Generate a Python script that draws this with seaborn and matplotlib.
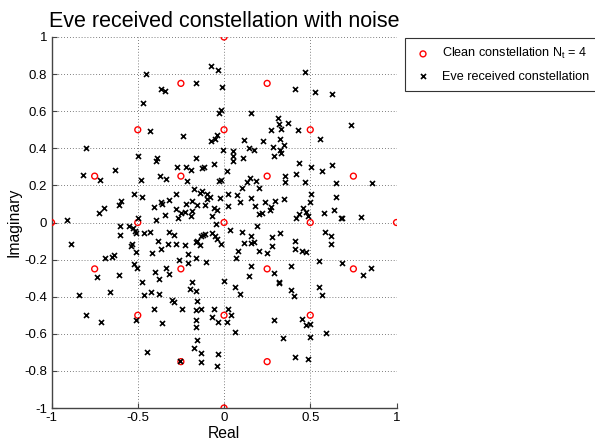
import matplotlib
matplotlib.use("Agg")
import matplotlib.pyplot as plt
import seaborn as sns

# Ideal constellation points (N_t = 4)
clean_re = [0, -0.25, 0.25, -0.5, 0, 0.5, -0.75, -0.25, 0.25, 0.75,
            -1, -0.5, 0, 0.5, 1, -0.75, -0.25, 0.25, 0.75,
            -0.5, 0, 0.5, -0.25, 0.25, 0]
clean_im = [1, 0.75, 0.75, 0.5, 0.5, 0.5, 0.25, 0.25, 0.25, 0.25,
            0, 0, 0, 0, 0, -0.25, -0.25, -0.25, -0.25,
            -0.5, -0.5, -0.5, -0.75, -0.75, -1]

# Symbols received by Eve (real part)
eve_re = [
    -0.076, -0.037, -0.45, -0.163, -0.366, -0.341, -0.012, -0.017, -0.027, 0.157,
    -0.43, -0.24, -0.041, -0.05, -0.076, 0.114, 0.225, 0.27, 0.283, -0.008,
    0.054, 0.143, 0.171, 0.05, 0.112, -0.386, -0.163, 0.289, -0.467, -0.80,
    -0.50, 0.467, 0.409, 0.529, 0.628, 0.312, 0.316, 0.37, 0.331, 0.428,
    0.738, 0.558, 0.322, 0.347, 0.322, 0.331,
    -0.395, -0.275, -0.63, -0.82, -0.721, -0.484, -0.372, -0.335, -0.523, -0.475,
    -0.281, -0.595, -0.61, -0.32, -0.368, -0.359, -0.407, -0.281, -0.694, -0.723,
    -0.343, -0.393, -0.266, -0.498, -0.911, -0.605, -0.552, -0.529, -0.517, -0.51,
    -0.605, -0.465, -0.432, -0.32, -0.29, -0.382, -0.533, -0.537, -0.324, -0.281,
    -0.886, -0.368, -0.51, -0.42, -0.64, -0.688, -0.649, -0.523, -0.504, -0.339,
    -0.401, -0.32, -0.737, -0.61, -0.378, -0.475,
    0.052, 0.432, -0.219, -0.194, -0.13, -0.116, -0.058, 0.019, -0.213, -0.029,
    -0.019, 0.149, 0.135, 0.188, 0.355, 0.417, 0.355, 0.107, 0.2, -0.174,
    -0.141, -0.13, -0.097, -0.083, -0.097, -0.025, 0.025, 0.077, 0.155, 0.091,
    0.238, 0.297, 0.349, -0.184, -0.155, -0.219, -0.11, -0.058, -0.043, 0.025,
    0.18, 0.271, 0.219, 0.2, 0.266, 0.455, 0.478, 0.436, 0.42, 0.484,
    -0.227, -0.184, -0.252, -0.194, -0.068, -0.048, 0.033, 0.103, 0.194, 0.155,
    0.324, -0.11, -0.122, -0.136, -0.068, -0.052, -0.155, -0.165, -0.141, -0.039,
    -0.019, -0.227, 0.116, 0.174, 0.155, 0.277, 0.413, 0.083, 0.203, 0.252,
    0.281, 0.413, 0.452, 0.478, -0.208, -0.161, 0.068, -0.208, -0.107, -0.262,
    0.155, 0.291, 0.145, -0.188, 0.0, 0.32,
    0.502, 0.57, 0.628, 0.467, 0.651, 0.86, 0.506, 0.496, 0.651, 0.58,
    0.638, 0.676, 0.686, 0.797, 0.583, 0.622, 0.622, 0.548, 0.684, 0.806,
    0.855, 0.39,
    -0.839, -0.663, -0.465, -0.426, -0.378, -0.30, -0.29, -0.407, -0.798, -0.711,
    -0.51, -0.359, -0.446,
    0.064, 0.316, -0.2, -0.165, 0.091, 0.388, 0.407, -0.155, -0.246, -0.161,
    -0.136, -0.058, 0.025, 0.039, -0.068, -0.033, 0.019, -0.161, -0.161, 0.291,
    0.452, 0.475, 0.064, 0.343, -0.155, -0.174, -0.136, -0.033, -0.136, -0.039,
    0.413, 0.484, -0.255,
    0.548, 0.57, 0.496, 0.496, 0.589,
]

# Symbols received by Eve (imaginary part)
eve_im = [
    0.844, 0.823, 0.80, 0.754, 0.722, 0.708, 0.729, 0.604, 0.593, 0.593,
    0.495, 0.468, 0.473, 0.452, 0.441, 0.443, 0.437, 0.50, 0.407, 0.389,
    0.385, 0.40, 0.389, 0.357, 0.348, 0.348, 0.348, 0.357, 0.643, 0.40,
    0.357, 0.813, 0.719, 0.704, 0.694, 0.563, 0.532, 0.539, 0.505, 0.50,
    0.527, 0.45, 0.45, 0.419, 0.389, 0.375,
    0.33, 0.297, 0.281, 0.258, 0.231, 0.231, 0.249, 0.237, 0.151, 0.136,
    0.154, 0.118, 0.093, 0.124, 0.111, 0.102, 0.084, 0.075, 0.079, 0.052,
    0.038, 0.016, 0.022, 0.022, 0.011, -0.02, -0.02, -0.029, -0.047, -0.059,
    -0.065, -0.059, -0.05, -0.05, -0.07, -0.097, -0.118, -0.127, -0.115, -0.115,
    -0.118, -0.142, -0.158, -0.167, -0.177, -0.194, -0.187, -0.222, -0.247, -0.244,
    -0.265, -0.276, -0.294, -0.283, -0.303, -0.319,
    0.33, 0.321, 0.297, 0.285, 0.294, 0.297, 0.315, 0.276, 0.226, 0.222,
    0.231, 0.24, 0.217, 0.222, 0.249, 0.262, 0.219, 0.187, 0.187, 0.181,
    0.16, 0.172, 0.151, 0.136, 0.129, 0.133, 0.154, 0.147, 0.133, 0.109,
    0.109, 0.115, 0.129, 0.115, 0.097, 0.10, 0.097, 0.079, 0.07, 0.088,
    0.088, 0.082, 0.052, 0.047, 0.07, 0.079, 0.057, 0.047, 0.025, 0.034,
    0.057, 0.061, 0.052, 0.034, 0.034, -0.007, -0.038, -0.05, -0.02, -0.074,
    -0.055, -0.061, -0.068, -0.074, -0.055, -0.074, -0.097, -0.104, -0.122, -0.091,
    -0.115, -0.122, -0.109, -0.104, -0.109, -0.079, -0.097, -0.154, -0.154, -0.163,
    -0.127, -0.145, -0.154, -0.158, -0.172, -0.19, -0.194, -0.217, -0.211, -0.204,
    -0.235, -0.27, -0.289, -0.319, -0.315, -0.319,
    0.297, 0.28, 0.308, 0.219, 0.213, 0.213, 0.154, 0.111, 0.136, 0.052,
    0.065, 0.025, 0.022, 0.029, -0.05, -0.074, -0.118, -0.208, -0.22, -0.283,
    -0.247, -0.235,
    -0.392, -0.375, -0.392, -0.375, -0.387, -0.418, -0.428, -0.464, -0.498, -0.539,
    -0.525, -0.543, -0.70,
    -0.346, -0.328, -0.36, -0.369, -0.387, -0.364, -0.396, -0.423, -0.464, -0.471,
    -0.464, -0.468, -0.464, -0.50, -0.512, -0.539, -0.539, -0.525, -0.561, -0.525,
    -0.518, -0.554, -0.588, -0.625, -0.634, -0.674, -0.704, -0.71, -0.754, -0.772,
    -0.727, -0.736, -0.745,
    -0.346, -0.392, -0.548, -0.615, -0.597,
]

x_ticks = [-1, -0.5, 0, 0.5, 1]
x_tick_labels = ["-1", "-0.5", "0", "0.5", "1"]
y_ticks = [-1, -0.8, -0.6, -0.4, -0.2, 0, 0.2, 0.4, 0.6, 0.8, 1]
y_tick_labels = ["-1", "-0.8", "-0.6", "-0.4", "-0.2", "0", "0.2", "0.4", "0.6", "0.8", "1"]

sns.set_style("white")
plt.rcParams["font.family"] = ["Liberation Sans", "DejaVu Sans"]
plt.rcParams["axes.unicode_minus"] = False
plt.rcParams["text.color"] = "black"
plt.rcParams["axes.labelcolor"] = "black"

fig = plt.figure(figsize=(5.95, 4.41), dpi=100)
ax = fig.add_axes([0.0866, 0.0748, 0.5798, 0.8413])

sns.scatterplot(x=clean_re, y=clean_im, ax=ax, marker="o", s=18,
                color="red", facecolor="none", edgecolor="red", linewidth=1.0,
                label="Clean constellation N$_\\mathregular{t}$ = 4", zorder=3)
sns.scatterplot(x=eve_re, y=eve_im, ax=ax, marker="x", s=13,
                color="black", linewidth=1.2,
                label="Eve received constellation", zorder=4)

ax.set_xlim(-1, 1)
ax.set_ylim(-1, 1)
ax.set_xticks(x_ticks)
ax.set_xticklabels(x_tick_labels)
ax.set_yticks(y_ticks)
ax.set_yticklabels(y_tick_labels)

grid_color = "#555555"
ax.grid(True, linestyle=(0, (1, 2.5)), linewidth=0.6, color=grid_color)
ax.set_axisbelow(True)

for side in ("top", "right"):
    ax.spines[side].set_visible(False)
for side in ("left", "bottom"):
    ax.spines[side].set_color("#444444")
    ax.spines[side].set_linewidth(1.0)

ax.tick_params(direction="in", length=3.5, width=0.8, colors="#444444",
               labelcolor="black", labelsize=9.5, pad=3,
               top=False, right=False, left=True, bottom=True)

ax.set_title("Eve received constellation with noise", fontsize=15.5, pad=7.2,
             color="black")
ax.set_xlabel("Real", fontsize=11.3, labelpad=1)
ax.set_ylabel("Imaginary", fontsize=11.3, labelpad=2)

leg = ax.legend(loc="upper left", bbox_to_anchor=(405 / 595, 1 - 38 / 441),
                bbox_transform=fig.transFigure, borderaxespad=0,
                fontsize=9.1, frameon=True, fancybox=False, framealpha=1,
                edgecolor="#333333", handlelength=1.55, handletextpad=0.75,
                borderpad=0.65, labelspacing=0.75)
leg.get_frame().set_linewidth(0.8)
for txt in leg.get_texts():
    txt.set_color("black")

fig.savefig("out.png", dpi=100)
